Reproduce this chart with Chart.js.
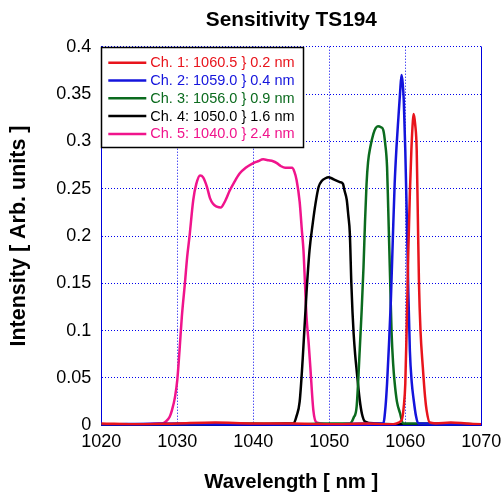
<!DOCTYPE html>
<html><head><meta charset="utf-8">
<script src="https://cdn.jsdelivr.net/npm/chart.js@4"></script>
<style>html,body{margin:0;padding:0;background:#fff}#wrap{width:503px;height:495px;position:relative}</style>
</head><body><div id="wrap"><canvas id="c"></canvas></div>
<script>
const chartTitle = 'Sensitivity TS194';
const xAxisTitle = 'Wavelength [ nm ]';
const yAxisTitle = 'Intensity [ Arb. units ]';
const wavelengthTicks = [1020, 1030, 1040, 1050, 1060, 1070];
const intensityTicks = [0, 0.05, 0.1, 0.15, 0.2, 0.25, 0.3, 0.35, 0.4];
const intensityTickLabels = ['0', '0.05', '0.1', '0.15', '0.2', '0.25', '0.3', '0.35', '0.4'];
const seriesLabels = [
  'Ch. 1: 1060.5 } 0.2 nm',
  'Ch. 2: 1059.0 } 0.4 nm',
  'Ch. 3: 1056.0 } 0.9 nm',
  'Ch. 4: 1050.0 } 1.6 nm',
  'Ch. 5: 1040.0 } 2.4 nm'
];

const ch1Wavelength = [1020, 1025, 1030, 1035, 1040, 1045, 1050, 1055, 1058, 1059.5, 1059.8, 1060.0, 1060.2, 1060.4, 1060.6, 1060.8, 1061.0, 1061.1, 1061.3, 1061.5, 1061.65, 1061.8, 1062.0, 1062.3, 1062.6, 1062.8, 1063.2, 1064, 1066, 1068, 1070];
const ch1Intensity  = [0.002, 0.001, 0.002, 0.003, 0.002, 0.002, 0.001, 0.002, 0.001, 0.005, 0.02, 0.044, 0.11, 0.185, 0.245, 0.291, 0.322, 0.329, 0.318, 0.291, 0.22, 0.150, 0.10, 0.062, 0.03, 0.016, 0.003, 0.002, 0.003, 0.002, 0.001];

const ch2Wavelength = [1020, 1030, 1040, 1050, 1055, 1057.1, 1057.4, 1057.6, 1057.85, 1058.1, 1058.35, 1058.6, 1058.85, 1059.1, 1059.3, 1059.5, 1059.65, 1059.8, 1060.0, 1060.2, 1060.4, 1060.6, 1060.85, 1061.1, 1061.4, 1061.7, 1063, 1065, 1070];
const ch2Intensity  = [0.001, 0.002, 0.001, 0.001, 0.002, 0.002, 0.02, 0.044, 0.085, 0.132, 0.195, 0.255, 0.295, 0.326, 0.35, 0.370, 0.362, 0.343, 0.29, 0.220, 0.14, 0.079, 0.045, 0.027, 0.01, 0.002, 0.002, 0.001, 0.001];

const ch3Wavelength = [1020, 1030, 1040, 1045, 1050, 1052.7, 1053.2, 1053.6, 1054.0, 1054.25, 1054.5, 1054.7, 1054.9, 1055.1, 1055.4, 1055.8, 1056.1, 1056.4, 1056.8, 1057.1, 1057.35, 1057.6, 1057.75, 1057.9, 1058.05, 1058.2, 1058.4, 1058.6, 1058.9, 1059.3, 1059.7, 1062, 1065, 1068];
const ch3Intensity  = [0.001, 0.001, 0.002, 0.001, 0.002, 0.002, 0.008, 0.02, 0.079, 0.12, 0.167, 0.215, 0.255, 0.278, 0.294, 0.308, 0.314, 0.316, 0.315, 0.312, 0.298, 0.273, 0.23, 0.185, 0.14, 0.097, 0.065, 0.045, 0.025, 0.013, 0.002, 0.002, 0.001, 0.001];

const ch4Wavelength = [1020, 1030, 1040, 1044, 1045.3, 1045.7, 1046.1, 1046.5, 1047.0, 1047.4, 1047.8, 1048.2, 1048.6, 1049.0, 1049.5, 1049.9, 1050.3, 1050.8, 1051.4, 1051.8, 1052.0, 1052.3, 1052.5, 1052.7, 1052.9, 1053.05, 1053.2, 1053.4, 1053.6, 1054.0, 1054.3, 1054.7, 1056, 1060, 1065, 1070];
const ch4Intensity  = [0.001, 0.001, 0.001, 0.002, 0.002, 0.01, 0.025, 0.07, 0.14, 0.185, 0.212, 0.235, 0.252, 0.258, 0.261, 0.262, 0.261, 0.259, 0.257, 0.255, 0.248, 0.238, 0.222, 0.203, 0.150, 0.12, 0.097, 0.075, 0.058, 0.027, 0.012, 0.004, 0.002, 0.001, 0.002, 0.001];

const ch5Wavelength = [1020, 1025, 1027.5, 1028.0, 1028.5, 1029.0, 1029.3, 1029.7, 1030.0, 1030.3, 1030.6, 1031.0, 1031.3, 1031.6, 1032.1, 1032.5, 1033.0, 1033.4, 1033.9, 1034.3, 1034.7, 1035.2, 1035.7, 1036.3, 1036.9, 1037.5, 1038.2, 1039.0, 1040.0, 1040.6, 1041.3, 1042.0, 1042.6, 1043.1, 1043.6, 1044.2, 1045.1, 1045.4, 1045.7, 1046.1, 1046.4, 1046.6, 1046.8, 1047.0, 1047.3, 1047.5, 1047.9, 1048.3, 1049, 1050, 1055];
const ch5Intensity  = [0.001, 0.001, 0.002, 0.002, 0.004, 0.009, 0.016, 0.03, 0.048, 0.080, 0.115, 0.150, 0.178, 0.199, 0.238, 0.255, 0.264, 0.262, 0.252, 0.240, 0.234, 0.231, 0.230, 0.237, 0.248, 0.257, 0.266, 0.272, 0.277, 0.279, 0.281, 0.280, 0.279, 0.277, 0.274, 0.272, 0.272, 0.268, 0.259, 0.236, 0.205, 0.185, 0.15, 0.115, 0.085, 0.062, 0.016, 0.003, 0.002, 0.001, 0.001];

const FONT = "'Liberation Sans', Arial, Helvetica, sans-serif";
const toPts = (xs, ys) => xs.map((x, i) => ({ x: x, y: ys[i] }));
const seriesColors = ['#e8141c', '#1414dc', '#0b6b1e', '#000000', '#f0148c'];
const seriesData = [
  toPts(ch1Wavelength, ch1Intensity),
  toPts(ch2Wavelength, ch2Intensity),
  toPts(ch3Wavelength, ch3Intensity),
  toPts(ch4Wavelength, ch4Intensity),
  toPts(ch5Wavelength, ch5Intensity)
];

const framePlugin = {
  id: 'frame',
  afterDatasetsDraw(chart) {
    const { ctx, chartArea: a } = chart;
    ctx.save();
    ctx.strokeStyle = '#0000dd';
    ctx.lineWidth = 1;
    const xr = Math.round(a.right) + 0.5;
    ctx.beginPath();
    ctx.moveTo(xr, a.top);
    ctx.lineTo(xr, a.bottom);
    ctx.stroke();
    ctx.restore();
  }
};

const boxLegend = {
  id: 'boxLegend',
  afterDraw(chart) {
    const { ctx, chartArea: a } = chart;
    const x0 = Math.round(a.left) + 0.5, y0 = Math.round(a.top) + 0.5;
    const w = 202, h = 100;
    ctx.save();
    ctx.fillStyle = '#ffffff';
    ctx.fillRect(x0, y0, w, h);
    ctx.strokeStyle = '#000000';
    ctx.lineWidth = 1.5;
    ctx.strokeRect(x0, y0, w, h);
    ctx.font = '14.5px ' + FONT;
    ctx.textBaseline = 'middle';
    ctx.textAlign = 'left';
    chart.data.datasets.forEach((ds, i) => {
      const y = a.top + 16 + i * 17.8;
      ctx.strokeStyle = ds.borderColor;
      ctx.lineWidth = 2.5;
      ctx.beginPath();
      ctx.moveTo(a.left + 7, y);
      ctx.lineTo(a.left + 45, y);
      ctx.stroke();
      ctx.fillStyle = ds.borderColor;
      ctx.fillText(ds.label, a.left + 49, y + 0.5);
    });
    ctx.restore();
  }
};

new Chart(document.getElementById('c'), {
  type: 'scatter',
  data: {
    datasets: seriesData.map((d, i) => ({
      label: seriesLabels[i],
      data: d,
      showLine: true,
      borderColor: seriesColors[i],
      backgroundColor: seriesColors[i],
      borderWidth: 2.5,
      pointRadius: 0,
      cubicInterpolationMode: 'monotone'
    }))
  },
  options: {
    responsive: true,
    maintainAspectRatio: false,
    animation: false,
    layout: { padding: { left: 0, right: 21.7, top: 0, bottom: 0 } },
    plugins: {
      legend: { display: false },
      tooltip: { enabled: false },
      title: { display: false }
    },
    scales: {
      top: {
        type: 'linear',
        position: 'top',
        min: 1020, max: 1070,
        afterFit: s => { s.height = 46.7; s.paddingLeft = 0; s.paddingRight = 0; },
        ticks: { display: false },
        grid: { display: false, drawTicks: false },
        border: { display: false },
        title: {
          display: true,
          text: chartTitle,
          color: '#000',
          font: { family: FONT, size: 20.8, weight: 'bold', lineHeight: 1.2 },
          padding: { top: 7.5, bottom: 0 }
        }
      },
      x: {
        type: 'linear',
        position: 'bottom',
        min: 1020, max: 1070,
        afterBuildTicks: s => { s.ticks = wavelengthTicks.map(v => ({ value: v })); },
        afterFit: s => { s.height = 69.7; s.paddingLeft = 0; s.paddingRight = 0; },
        ticks: {
          color: '#000',
          font: { family: FONT, size: 18 },
          padding: 6,
          maxRotation: 0,
          autoSkip: false,
          callback: v => String(v)
        },
        grid: { color: '#0000ee', lineWidth: 1, drawTicks: false },
        border: { display: true, color: '#0000dd', width: 1, dash: [1, 2] },
        title: {
          display: true,
          text: xAxisTitle,
          color: '#000',
          font: { family: FONT, size: 20.3, weight: 'bold', lineHeight: 1.2 },
          padding: { top: 0, bottom: 0.8 }
        }
      },
      y: {
        type: 'linear',
        min: 0, max: 0.4,
        afterBuildTicks: s => { s.ticks = intensityTicks.map(v => ({ value: v })); },
        afterFit: s => { s.width = 101.3; s.paddingTop = 0; s.paddingBottom = 0; },
        ticks: {
          color: '#000',
          font: { family: FONT, size: 18 },
          padding: 10,
          autoSkip: false,
          callback: (v) => intensityTickLabels[intensityTicks.indexOf(v)] ?? String(v)
        },
        grid: { color: '#0000ee', lineWidth: 1, drawTicks: false },
        border: { display: true, color: '#0000dd', width: 1, dash: [1, 2] },
        title: {
          display: true,
          text: yAxisTitle,
          color: '#000',
          font: { family: FONT, size: 21.5, weight: 'bold', lineHeight: 1.2 },
          padding: { top: 6.6, bottom: 0 }
        }
      }
    }
  },
  plugins: [framePlugin, boxLegend]
});
</script>
</body></html>
